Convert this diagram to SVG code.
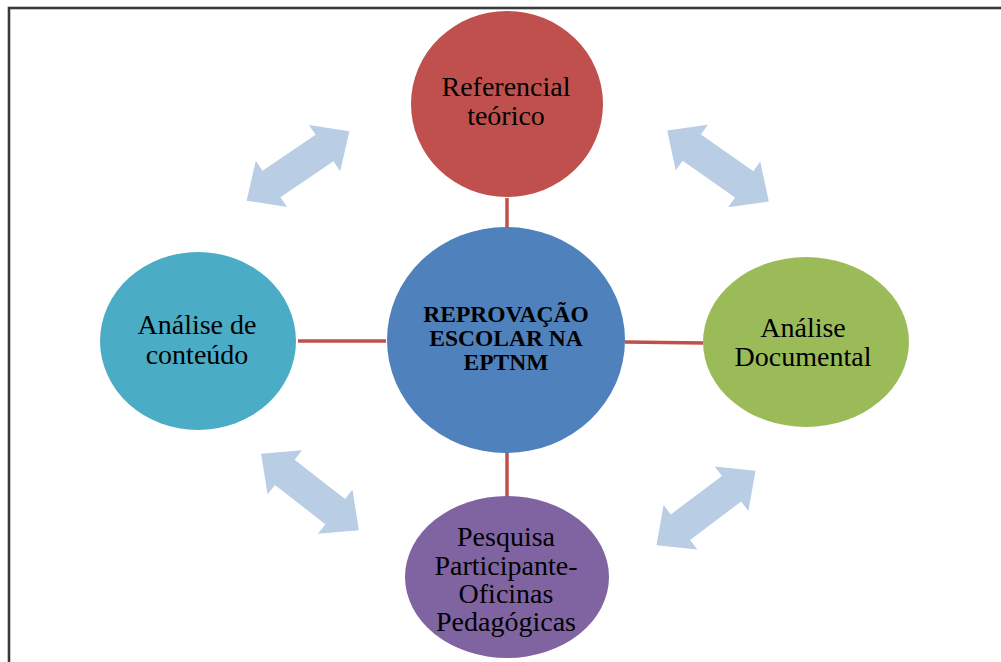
<svg xmlns="http://www.w3.org/2000/svg" width="1001" height="662" viewBox="0 0 1001 662">
<style>
.t{font-family:"Liberation Serif","Times New Roman",serif;font-size:28px;fill:#000;text-anchor:middle}
.b{font-family:"Liberation Serif","Times New Roman",serif;font-size:23.5px;font-weight:bold;fill:#000;text-anchor:middle}
.arr{fill:#B9CDE5}
.ln{stroke:#C0504D;stroke-width:3.5;fill:none}
</style>
<defs>
<path id="dbl" d="M -62,0 L -32,-28 L -32,-16 L 32,-16 L 32,-28 L 62,0 L 32,28 L 32,16 L -32,16 L -32,28 Z"/>
</defs>
<rect x="0" y="0" width="1001" height="662" fill="#fff"/>
<rect x="9" y="8" width="1010" height="700" fill="none" stroke="#3a3a3a" stroke-width="2.6"/>
<g id="connectors">
<line class="ln" x1="507" y1="198" x2="507" y2="229"/>
<line class="ln" x1="298" y1="341" x2="386" y2="341"/>
<line class="ln" x1="625" y1="342" x2="703" y2="343"/>
<line class="ln" x1="507" y1="452" x2="507" y2="498"/>
<use href="#dbl" class="arr" transform="translate(298,166) rotate(-34)"/>
<use href="#dbl" class="arr" transform="translate(718,166) rotate(35)"/>
<use href="#dbl" class="arr" transform="translate(310,492) rotate(38)"/>
<use href="#dbl" class="arr" transform="translate(706,508) rotate(-37)"/>
</g>
<g id="referencial">
<ellipse cx="507" cy="104" rx="96" ry="93" fill="#C0504D"/>
<text class="t" x="506" y="96">Referencial</text>
<text class="t" x="506" y="125">teórico</text>
</g>
<g id="centro">
<ellipse cx="506" cy="340" rx="119" ry="113" fill="#4F81BD"/>
<text class="b" x="506" y="322">REPROVAÇÃO</text>
<text class="b" x="506" y="346">ESCOLAR NA</text>
<text class="b" x="506" y="370">EPTNM</text>
</g>
<g id="conteudo">
<ellipse cx="198" cy="341" rx="98" ry="89" fill="#4BACC6"/>
<text class="t" x="197" y="334">Análise de</text>
<text class="t" x="197" y="364">conteúdo</text>
</g>
<g id="documental">
<ellipse cx="806" cy="342" rx="103" ry="85" fill="#9BBB59"/>
<text class="t" x="803" y="337">Análise</text>
<text class="t" x="803" y="366">Documental</text>
</g>
<g id="pesquisa">
<ellipse cx="507" cy="577" rx="102" ry="81" fill="#8064A2"/>
<text class="t" x="506" y="546">Pesquisa</text>
<text class="t" x="506" y="575">Participante-</text>
<text class="t" x="506" y="603">Oficinas</text>
<text class="t" x="506" y="631">Pedagógicas</text>
</g>
</svg>
